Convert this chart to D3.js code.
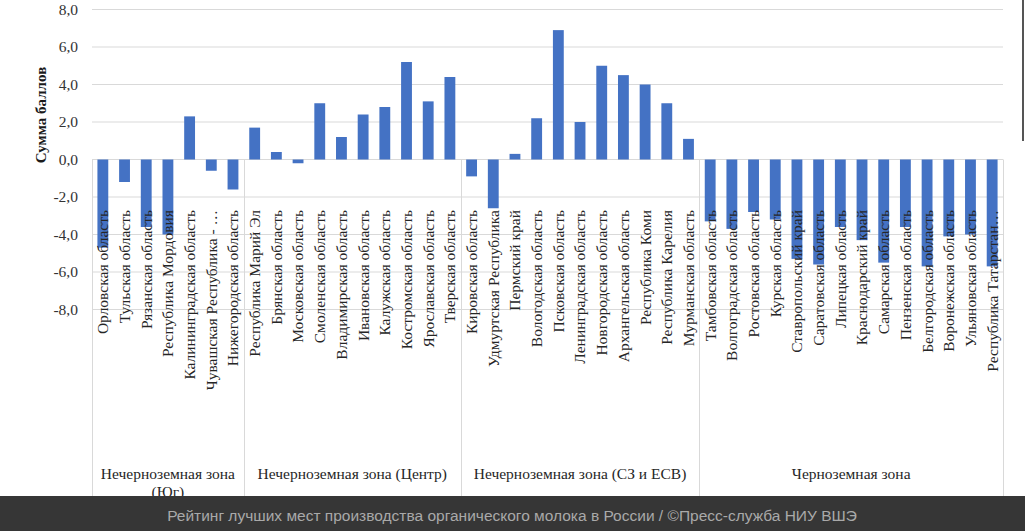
<!DOCTYPE html>
<html>
<head>
<meta charset="utf-8">
<script src="https://cdn.jsdelivr.net/npm/d3@7"></script>
<style>
  html, body { margin: 0; padding: 0; background: #ffffff; }
  svg { display: block; }
</style>
</head>
<body>
<svg id="chart" width="1025" height="531"></svg>
<script>
// ---- data ----
const categories = [
  "Орловская область", "Тульская область", "Рязанская область", "Республика Мордовия",
  "Калининградская область", "Чувашская Республика - …", "Нижегородская область",
  "Республика Марий Эл", "Брянская область", "Московская область", "Смоленская область",
  "Владимирская область", "Ивановская область", "Калужская область", "Костромская область",
  "Ярославская область", "Тверская область",
  "Кировская область", "Удмуртская Республика", "Пермский край", "Вологодская область",
  "Псковская область", "Ленинградская область", "Новгородская область", "Архангельская область",
  "Республика Коми", "Республика Карелия", "Мурманская область",
  "Тамбовская область", "Волгоградская область", "Ростовская область", "Курская область",
  "Ставропольский край", "Саратовская область", "Липецкая область", "Краснодарский край",
  "Самарская область", "Пензенская область", "Белгородская область", "Воронежская область",
  "Ульяновская область", "Республика Татарстан…"
];
const values = [
  -4.7, -1.2, -3.6, -4.0, 2.3, -0.6, -1.6,
  1.7, 0.4, -0.2, 3.0, 1.2, 2.4, 2.8, 5.2, 3.1, 4.4,
  -0.9, -2.6, 0.3, 2.2, 6.9, 2.0, 5.0, 4.5, 4.0, 3.0, 1.1,
  -3.3, -3.7, -2.8, -3.2, -5.3, -5.6, -3.6, -4.3, -5.5, -3.6, -5.7, -4.1, -4.0, -5.7
];
const zones = [
  "Нечерноземная зона (Юг)",
  "Нечерноземная зона (Центр)",
  "Нечерноземная зона (СЗ и ЕСВ)",
  "Черноземная зона"
];
const zoneCounts = [7, 10, 11, 14];
const yTicks = [-8, -6, -4, -2, 0, 2, 4, 6, 8];
const yTitle = "Сумма баллов";
const caption = "Рейтинг лучших мест производства органического молока в России / ©Пресс-служба НИУ ВШЭ";

// ---- layout ----
const W = 1025, H = 531;
const plotL = 92, plotR = 1003;
const footerTop = 496;
const serif = "'Liberation Serif', 'Times New Roman', serif";
const svg = d3.select("#chart");

const x = d3.scaleBand().domain(categories).range([plotL, plotR])
  .paddingInner(0.5).paddingOuter(0.25);
const xEdge = d3.scaleBand().domain(categories).range([plotL, plotR]).padding(0);
const y = d3.scaleLinear().domain([-8, 8]).range([309.5, 9.5]);

// gridlines
svg.append("g").selectAll("line").data(yTicks).join("line")
  .attr("x1", plotL).attr("x2", plotR)
  .attr("y1", d => y(d)).attr("y2", d => y(d))
  .attr("stroke", "#d9d9d9").attr("stroke-width", 1);

// zone boundaries
let acc = 0;
const zoneInfo = zones.map((z, i) => {
  const start = acc; acc += zoneCounts[i];
  const x0 = xEdge(categories[start]);
  const x1 = acc < categories.length ? xEdge(categories[acc]) : plotR;
  return { name: z, x0, x1 };
});
const edges = [plotL].concat(zoneInfo.map(d => d.x1));
svg.append("g").selectAll("line").data(edges).join("line")
  .attr("x1", d => Math.round(d) + 0.5).attr("x2", d => Math.round(d) + 0.5)
  .attr("y1", y(0)).attr("y2", footerTop)
  .attr("stroke", "#d9d9d9").attr("stroke-width", 1);

// bars
svg.append("g").selectAll("rect").data(values).join("rect")
  .attr("x", (d, i) => x(categories[i]))
  .attr("width", x.bandwidth())
  .attr("y", d => y(Math.max(0, d)))
  .attr("height", d => Math.abs(y(d) - y(0)))
  .attr("fill", "#4472c4");

// y tick labels
svg.append("g").selectAll("text").data(yTicks).join("text")
  .attr("x", 78).attr("y", d => y(d)).attr("dy", "0.35em")
  .attr("text-anchor", "end")
  .attr("font-family", serif).attr("font-size", 15.5).attr("fill", "#333")
  .text(d => d.toFixed(1).replace(".", ","));

// y title
svg.append("text")
  .attr("transform", "translate(41,115) rotate(-90)")
  .attr("dy", "0.35em").attr("text-anchor", "middle")
  .attr("font-family", serif).attr("font-size", 15).attr("font-weight", "bold")
  .attr("fill", "#1a1a1a")
  .text(yTitle);

// category labels (rotated)
svg.append("g").selectAll("text").data(categories).join("text")
  .attr("transform", d => `translate(${x(d) + x.bandwidth() / 2},210) rotate(-90)`)
  .attr("dy", "0.35em").attr("text-anchor", "end")
  .attr("font-family", serif).attr("font-size", 15.5).attr("fill", "#262626")
  .text(d => d);

// zone labels with wrapping
const zg = svg.append("g");
zoneInfo.forEach(z => {
  const t = zg.append("text")
    .attr("x", (z.x0 + z.x1) / 2).attr("y", 479)
    .attr("text-anchor", "middle")
    .attr("font-family", serif).attr("font-size", 15.5).attr("fill", "#262626");
  const words = z.name.split(" ");
  const maxW = z.x1 - z.x0 - 8;
  let line = [];
  let tspan = t.append("tspan").attr("x", (z.x0 + z.x1) / 2).attr("dy", 0);
  words.forEach(w => {
    line.push(w);
    tspan.text(line.join(" "));
    if (tspan.node().getComputedTextLength() > maxW && line.length > 1) {
      line.pop();
      tspan.text(line.join(" "));
      line = [w];
      tspan = t.append("tspan").attr("x", (z.x0 + z.x1) / 2).attr("dy", 17.5).text(w);
    }
  });
});

// right edge artifact
svg.append("line").attr("x1", 1023).attr("x2", 1023).attr("y1", 0).attr("y2", 141)
  .attr("stroke", "#555").attr("stroke-width", 2);

// footer
svg.append("rect").attr("x", 0).attr("y", footerTop).attr("width", W).attr("height", H - footerTop)
  .attr("fill", "#363636");
svg.append("text")
  .attr("x", 512).attr("y", 521)
  .attr("text-anchor", "middle")
  .attr("font-family", "'Liberation Sans', Arial, sans-serif").attr("font-size", 15.5)
  .attr("fill", "#a9a9a9")
  .text(caption);
</script>
</body>
</html>
